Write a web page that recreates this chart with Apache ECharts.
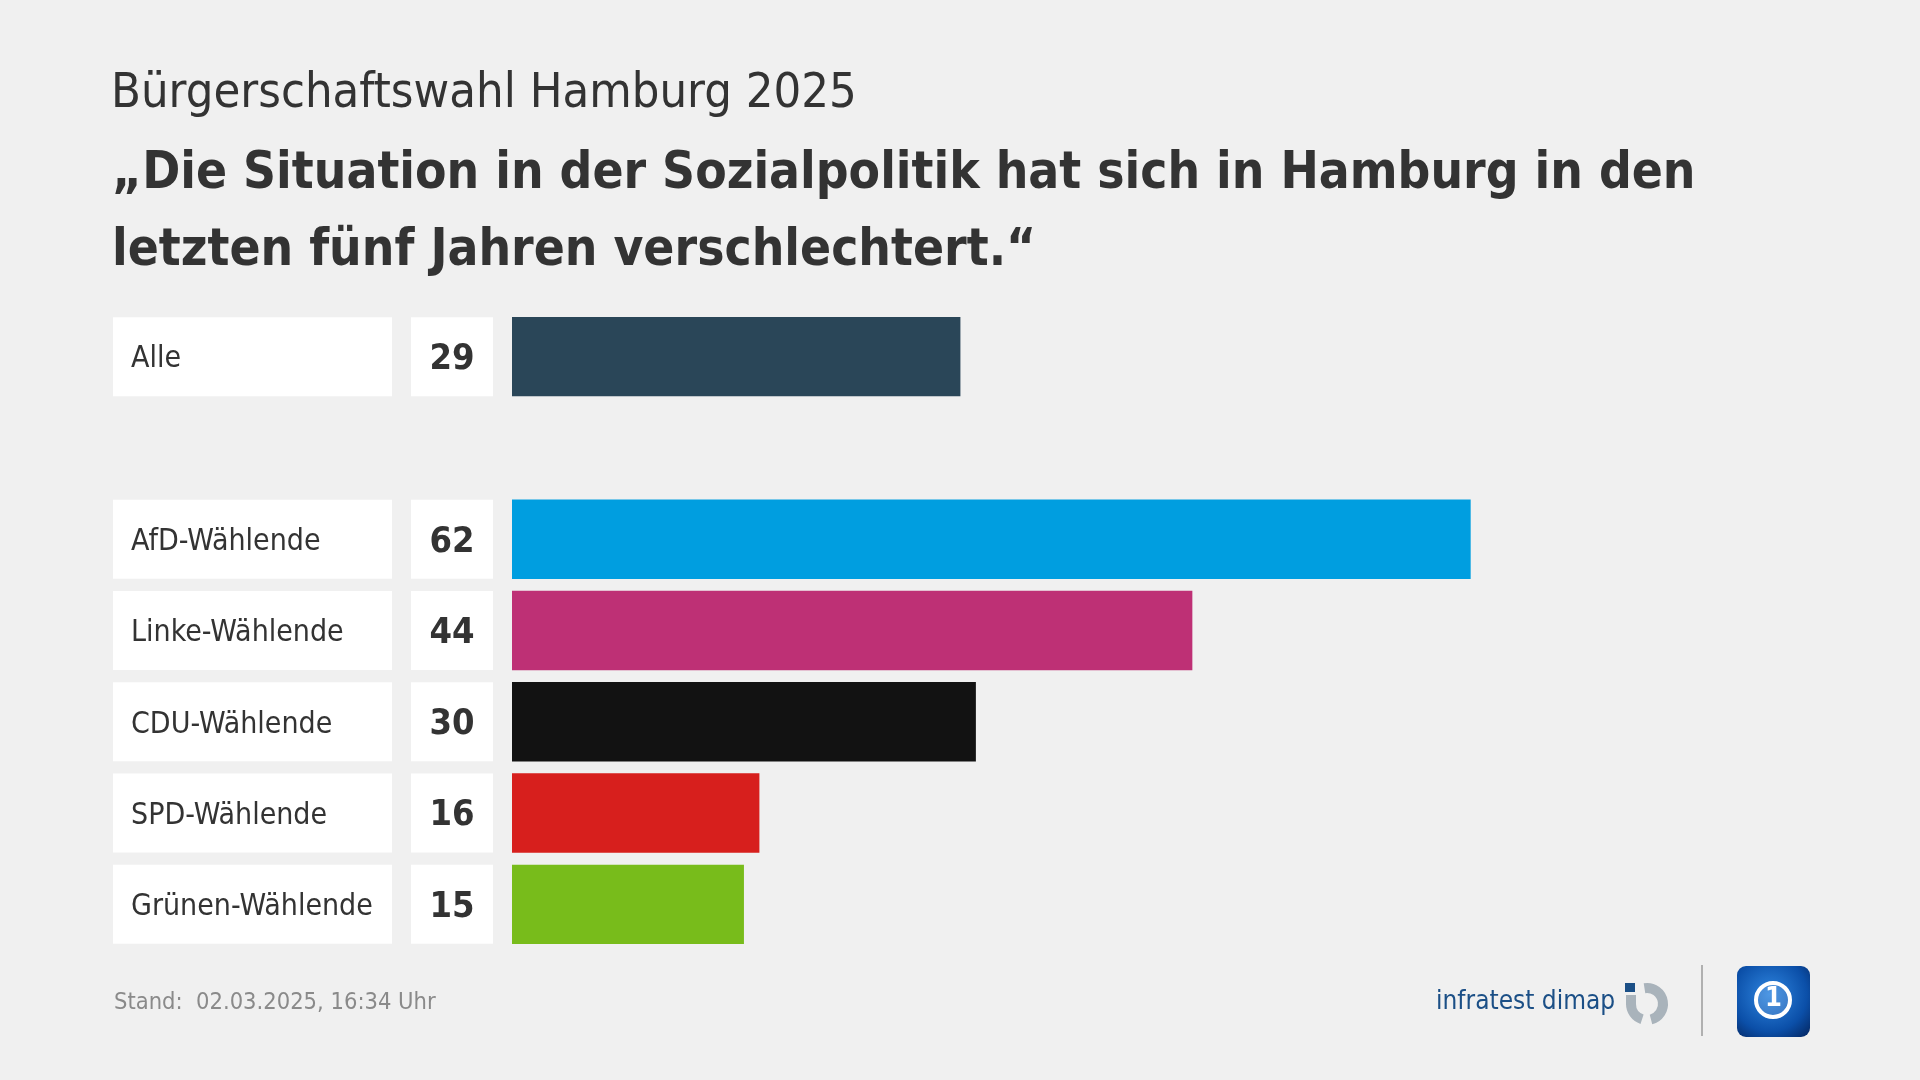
<!DOCTYPE html>
<html><head><meta charset="utf-8">
<script src="https://cdn.jsdelivr.net/npm/echarts@6/dist/echarts.min.js"></script>
<style>html,body{margin:0;padding:0;background:#f0f0f0}#c{width:1920px;height:1080px}</style>
</head><body><div id="c"></div>
<script>
const categories = ['Alle', '', 'AfD-Wählende', 'Linke-Wählende', 'CDU-Wählende', 'SPD-Wählende', 'Grünen-Wählende'];
const values = [29, null, 62, 44, 30, 16, 15];
const colors = ['#2a4658', 'transparent', '#009ee0', '#be3075', '#121212', '#d71f1d', '#78bc1b'];
const supTitle = 'Bürgerschaftswahl Hamburg 2025';
const mainTitle = '„Die Situation in der Sozialpolitik hat sich in Hamburg in den\nletzten fünf Jahren verschlechtert.“';
const footer = 'Stand:  02.03.2025, 16:34 Uhr';

const FONT = '"DejaVu Sans Condensed", "Open Sans", sans-serif';
const chart = echarts.init(document.getElementById('c'), null, {renderer: 'canvas'});
chart.setOption({
  backgroundColor: '#f0f0f0',
  animation: false,
  title: [
    {text: supTitle, left: 106, top: 60,
     textStyle: {fontFamily: FONT, fontWeight: 'normal', fontSize: 48.5, lineHeight: 58, color: '#333333'}},
    {text: mainTitle, left: 107, top: 131,
     textStyle: {fontFamily: FONT, fontWeight: 'bold', fontSize: 51, lineHeight: 77, color: '#333333'}},
    {text: footer, left: 109, top: 984,
     textStyle: {fontFamily: FONT, fontWeight: 'normal', fontSize: 23.5, lineHeight: 28, color: '#8a8a8a'}}
  ],
  grid: {left: 512, right: 171, top: 311, bottom: 130, containLabel: false},
  xAxis: {type: 'value', min: 0, max: 80, show: false},
  yAxis: {
    type: 'category', inverse: true, data: categories,
    axisLine: {show: false}, axisTick: {show: false}, splitLine: {show: false},
    axisLabel: {
      margin: 19,
      formatter: (v, i) => v ? `{n|${v}}{s|}{v|${values[i]}}` : '',
      rich: {
        n: {width: 261, height: 73, padding: [6, 0, 0, 18], backgroundColor: '#ffffff', align: 'left',
            fontFamily: FONT, fontSize: 30, color: '#333333'},
        s: {width: 19, height: 79},
        v: {width: 82, height: 73, padding: [6, 0, 0, 0], backgroundColor: '#ffffff', align: 'center',
            fontFamily: FONT, fontWeight: 'bold', fontSize: 36, color: '#333333'}
      }
    }
  },
  series: [{
    type: 'bar', barCategoryGap: '13%',
    data: values.map((v, i) => ({value: v, itemStyle: {color: colors[i]}})),
    silent: true
  }],
  graphic: [
    {type: 'text', left: 1436, top: 989, style: {text: 'infratest dimap', font: '500 26px ' + FONT, fill: '#1b4f86'}},
    {type: 'rect', shape: {x: 1625, y: 983, width: 10, height: 9}, style: {fill: '#1b4f86'}},
    {type: 'arc', shape: {cx: 1647, cy: 1004, r: 16, startAngle: -Math.PI * 0.55, endAngle: Math.PI * 0.42}, style: {stroke: '#a9b3bb', lineWidth: 10, fill: null}},
    {type: 'arc', shape: {cx: 1647, cy: 1004, r: 16, startAngle: Math.PI * 0.6, endAngle: Math.PI * 1.0}, style: {stroke: '#a9b3bb', lineWidth: 10, fill: null}},
    {type: 'rect', shape: {x: 1626, y: 995, width: 10, height: 10}, style: {fill: '#a9b3bb'}},
    {type: 'rect', shape: {x: 1701, y: 965, width: 2, height: 71}, style: {fill: '#b0b0b0'}},
    {type: 'rect', shape: {x: 1737, y: 966, width: 73, height: 71, r: 9},
     style: {fill: new echarts.graphic.RadialGradient(0.45, 0.4, 0.75, [{offset: 0, color: '#2f86e0'}, {offset: 0.7, color: '#0b4fa8'}, {offset: 1, color: '#062f70'}])}},
    {type: 'circle', shape: {cx: 1773, cy: 1000, r: 17}, style: {fill: 'rgba(255,255,255,0.15)', stroke: '#ffffff', lineWidth: 4}},
    {type: 'text', left: 1765, top: 985, style: {text: '1', font: 'bold 27px ' + FONT, fill: '#ffffff'}}
  ]
});
</script></body></html>
